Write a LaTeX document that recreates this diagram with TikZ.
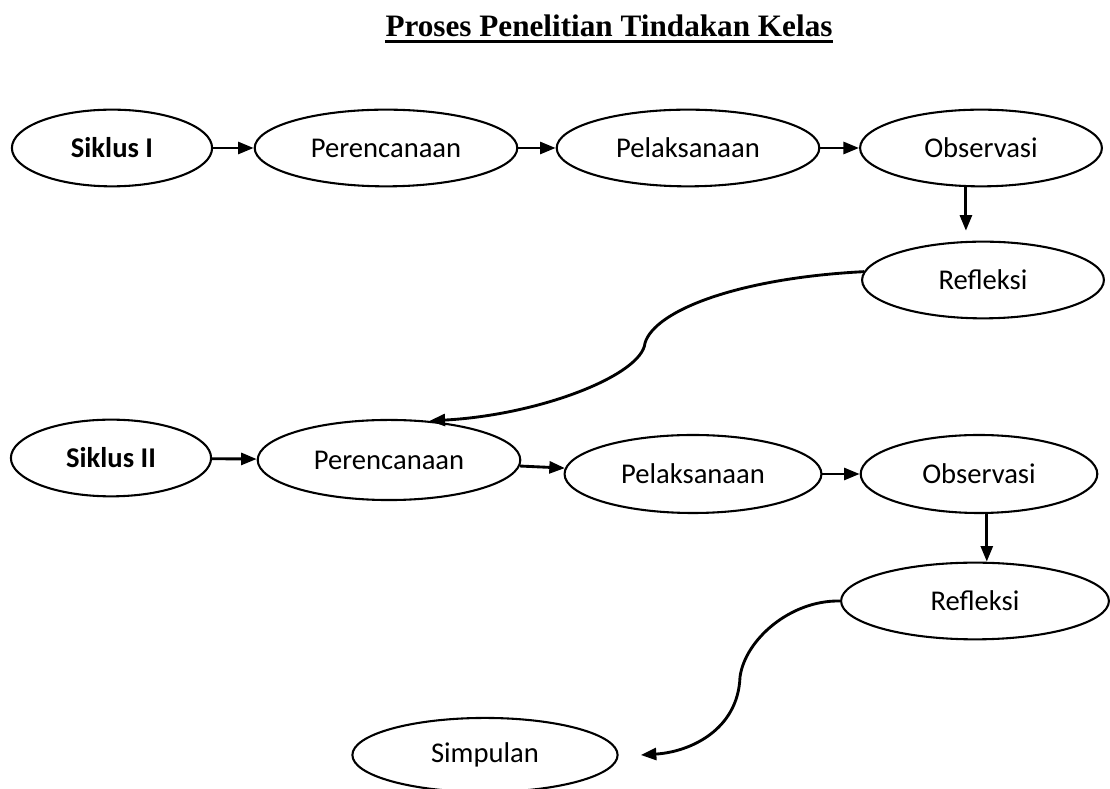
\documentclass[tikz,border=0pt]{standalone}
\usepackage{fontspec}
\setmainfont{Carlito}
\newfontfamily\titlefont{Liberation Serif}
\usetikzlibrary{shapes.geometric, arrows.meta}
\newcommand\wa{77pt}
\newcommand\wb{101pt}
\newcommand\wc{93pt}
\newcommand\ha{29.5pt}

\begin{document}
\begin{tikzpicture}[x=0.3846pt, y=-0.3846pt,
    stage/.style={draw, ellipse, line width=0.8pt, inner sep=0pt, minimum height=\ha, font=\fontsize{11}{13}\selectfont},
    cycle/.style={stage, font=\bfseries\fontsize{11}{13}\selectfont},
    flow/.style={-{Triangle[length=6pt,width=4.6pt]}, line width=1.1pt}]
    \useasboundingbox (0,0) rectangle (1110,789);

    \node (title) [anchor=base, inner sep=0pt, font=\titlefont\bfseries\fontsize{12}{14}\selectfont] at (609,37) {Proses Penelitian Tindakan Kelas};
    \draw[line width=1.1pt] ([yshift=-1.6pt]title.base west) -- ([yshift=-1.6pt]title.base east);

    % siklus I
    \node (s1) [cycle, minimum width=\wa] at (112,148) {Siklus I};
    \node (p1) [stage, minimum width=\wb] at (386,148) {Perencanaan};
    \node (l1) [stage, minimum width=\wb] at (688,148) {Pelaksanaan};
    \node (o1) [stage, minimum width=\wc] at (981,148) {Observasi};
    \node (r1) [stage, minimum width=\wc] at (983,280) {Refleksi};

    \draw[flow] (s1) -- (p1);
    \draw[flow] (p1) -- (l1);
    \draw[flow] (l1) -- (o1);
    \draw[flow, shorten >=3.8pt] ([xshift=-5.8pt]o1.south) -- ([xshift=-5.8pt]o1.south |- r1.north);

    % siklus II
    \node (s2) [cycle, minimum width=\wa] at (111,458) {Siklus II};
    \node (p2) [stage, minimum width=\wb, minimum height=30.8pt] at (389,460) {Perencanaan};
    \node (l2) [stage, minimum width=98.8pt, minimum height=30pt] at (693,474) {Pelaksanaan};
    \node (o2) [stage, minimum width=91pt, minimum height=30pt] at (979,474) {Observasi};
    \node (r2) [stage, minimum width=103pt] at (975,601) {Refleksi};
    \node (sim) [stage, minimum width=102pt, minimum height=28.5pt] at (485,755) {Simpulan};

    \coordinate (k1) at (645,343);
    \draw[flow] (r1.176) .. controls (740,278) and (655,310) .. (k1) .. controls (642,375) and (540,415) .. (p2.44);

    \draw[flow] (s2) -- (p2);
    \draw[flow] (p2) -- (l2);
    \draw[flow] (l2) -- (o2);
    \draw[flow] ([xshift=3pt]o2.south) -- ([xshift=3pt]o2.south |- r2.north);

    \coordinate (k2) at (740,677);
    \draw[flow] (r2.west) .. controls (790,600) and (745,640) .. (k2) .. controls (738,730) and (690,752) .. ([xshift=8.5pt]sim.east);

\end{tikzpicture}
\end{document}
